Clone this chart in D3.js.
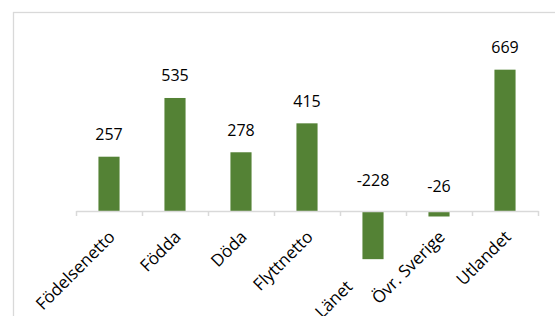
<!DOCTYPE html>
<html>
<head>
<meta charset="utf-8">
<script src="https://cdn.jsdelivr.net/npm/d3@7"></script>
<style>
  body { margin: 0; background: #fff; }
  text { font-family: "Open Sans", "Liberation Sans", sans-serif; fill: #000; }
</style>
</head>
<body>
<div id="display"></div>
<script>
var width = 555,
    height = 316;

// data
var categories = ["Födelsenetto", "Födda", "Döda", "Flyttnetto", "Länet", "Övr. Sverige", "Utlandet"];
var values = [257, 535, 278, 415, -228, -26, 669];

var data = categories.map(function (c, i) { return { cat: c, value: values[i] }; });

var svg = d3.select("#display")
    .append("svg")
    .attr("width", width)
    .attr("height", height);

// chart frame (runs off the right and bottom edge)
svg.append("rect")
    .attr("x", 13.5)
    .attr("y", 12.5)
    .attr("width", 600)
    .attr("height", 400)
    .attr("fill", "#fff")
    .attr("stroke", "#d9d9d9")
    .attr("stroke-width", 1.3);

var x = d3.scaleBand()
    .domain(categories)
    .range([76, 538])
    .paddingInner(0.68)
    .paddingOuter(0.34);

// tick positions between categories
var xTick = d3.scaleLinear()
    .domain([0, categories.length])
    .range([76, 538]);

var y = d3.scaleLinear()
    .domain([-400, 800])
    .range([295.5, 42]);

var y0 = y(0);

function drop(d) { return d.value < 0 ? y(d.value) - y0 : 0; }

// bars
svg.selectAll(".bar")
    .data(data)
    .enter()
    .append("rect")
    .attr("class", "bar")
    .attr("x", d => x(d.cat))
    .attr("width", x.bandwidth())
    .attr("y", d => Math.min(y(d.value), y0))
    .attr("height", d => Math.abs(y(d.value) - y0))
    .attr("fill", "#548235");

// axis line + tick marks
var axis = svg.append("g")
    .attr("transform", "translate(0," + y0 + ")")
    .call(d3.axisBottom(xTick)
        .tickValues(d3.range(categories.length + 1))
        .tickFormat("")
        .tickSize(5)
        .tickSizeOuter(0));
axis.select(".domain").attr("stroke", "#d9d9d9").attr("stroke-width", 1.5);
axis.selectAll(".tick line").attr("stroke", "#d9d9d9").attr("stroke-width", 1.5);

// value labels
svg.selectAll(".val")
    .data(data)
    .enter()
    .append("text")
    .attr("class", "val")
    .attr("x", d => x(d.cat) + x.bandwidth() / 2)
    .attr("y", function (d) {
        if (d.value >= 0) return y(d.value) - 16.5;
        return y0 - 18.5 - 0.13 * drop(d);
    })
    .attr("text-anchor", "middle")
    .style("font-size", "16px")
    .text(d => d.value);

// category labels, rotated; the deep negative bar pushes its label down
var catG = svg.selectAll(".cat")
    .data(data)
    .enter()
    .append("g")
    .attr("class", "cat")
    .attr("transform", function (d) {
        var cx = x(d.cat) + x.bandwidth() / 2 + 7;
        var cy = y0 + 27;
        var dd = drop(d);
        if (dd > 20) { cx -= dd * 0.55; cy += dd * 1.03; }
        return "translate(" + cx + "," + cy + ") rotate(-45)";
    });

catG.append("text")
    .attr("text-anchor", "end")
    .style("font-size", "17px")
    .text(d => d.cat);

catG.insert("rect", "text")
    .each(function () {
        var bb = this.parentNode.querySelector("text").getBBox();
        d3.select(this)
            .attr("x", bb.x)
            .attr("y", bb.y + 2)
            .attr("width", bb.width)
            .attr("height", bb.height - 2)
            .attr("fill", "#fff");
    });

// pushed-down label sits on top of its neighbour
catG.filter(d => drop(d) > 20).raise();
</script>
</body>
</html>
